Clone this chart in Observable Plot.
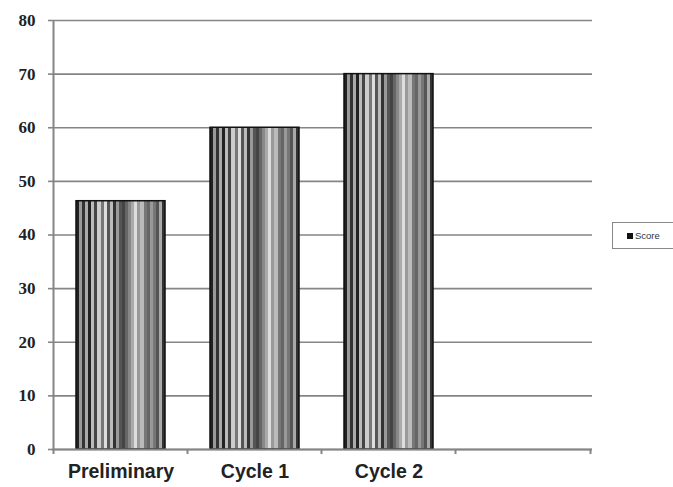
<!DOCTYPE html>
<html>
<head>
<meta charset="utf-8">
<script src="https://cdn.jsdelivr.net/npm/d3@7"></script>
<script src="https://cdn.jsdelivr.net/npm/@observablehq/plot@0.6"></script>
<style>
  body { margin: 0; background: #fff; }
  #wrap { position: relative; width: 673px; height: 487px; }
  #legend { position: absolute; left: 612px; top: 222px; width: 70px; height: 27px;
    border: 1.5px solid #888; box-sizing: border-box; background: #fff;
    font: 9.5px "Liberation Sans", Arial, sans-serif; color: #333; }
  #legend .sw { position: absolute; left: 14px; top: 10px; width: 6px; height: 6px; background: #111; }
  #legend .lb { position: absolute; left: 22px; top: 6.5px; }
</style>
</head>
<body>
<div id="wrap"></div>
<script>
const categories = ["Preliminary", "Cycle 1", "Cycle 2"];
const scores = [46.3, 60, 70];
const seriesName = "Score";
const yTicks = [0, 10, 20, 30, 40, 50, 60, 70, 80];
const xDomain = [...categories, " "];

const data = categories.map((c, i) => ({category: c, score: scores[i]}));

const W = 673, H = 487, mL = 52, mR = 81, mT = 20, mB = 38;
const step = (W - mL - mR) / xDomain.length;
const gray = "#858585";

// vertical stripe fill (style only)
const stripeGrays = ["#222","#999","#333","#aaa","#222","#bbb","#444","#ccc","#777","#ddd","#555","#bbb",
  "#333","#999","#555","#444","#666","#888","#aaa","#ddd","#999","#bbb","#777","#666","#999","#777","#555","#aaa","#333"];
function defs() {
  const ns = "http://www.w3.org/2000/svg";
  const d = document.createElementNS(ns, "defs");
  const g = document.createElementNS(ns, "linearGradient");
  g.setAttribute("id", "stripes");
  g.setAttribute("x1", "0"); g.setAttribute("x2", "1");
  g.setAttribute("y1", "0"); g.setAttribute("y2", "0");
  const n = stripeGrays.length;
  stripeGrays.forEach((c, i) => {
    for (const o of [i / n, (i + 1) / n]) {
      const s = document.createElementNS(ns, "stop");
      s.setAttribute("offset", o);
      s.setAttribute("stop-color", c);
      g.appendChild(s);
    }
  });
  d.appendChild(g);
  return d;
}

const chart = Plot.plot({
  width: W, height: H,
  marginLeft: mL, marginRight: mR, marginTop: mT, marginBottom: mB,
  x: {domain: xDomain, paddingInner: 0.333, paddingOuter: 0.1667, axis: null, label: null},
  y: {domain: [0, 80], axis: null, label: null},
  marks: [
    defs,
    Plot.gridY(yTicks, {stroke: gray, strokeOpacity: 1, strokeWidth: 1.6}),
    Plot.axisY(yTicks, {tickSize: 4, tickPadding: 13, stroke: gray, strokeWidth: 1.6, label: null,
      fontSize: 17, fontWeight: "bold", fontFamily: "Liberation Serif, Times New Roman, serif", fill: "#222"}),
    Plot.ruleX([xDomain[0]], {dx: -step / 2, stroke: gray, strokeWidth: 2}),
    Plot.barY(data, {x: "category", y: "score", fill: "url(#stripes)", stroke: "#111", strokeWidth: 1.5}),
    Plot.ruleY([0], {stroke: gray, strokeWidth: 2}),
    Plot.axisX(xDomain, {tickSize: 5, dx: -step / 2, stroke: gray, strokeWidth: 2, tickFormat: () => "", label: null}),
    Plot.axisX([xDomain[xDomain.length - 1]], {tickSize: 5, dx: step / 2, stroke: gray, strokeWidth: 2, tickFormat: () => "", label: null}),
    Plot.axisX(xDomain, {tickSize: 0, tickPadding: 15, fontSize: 19.5, fontWeight: "bold", label: null,
      fontFamily: "Liberation Sans, Arial, sans-serif", fill: "#222"})
  ]
});
const wrap = document.getElementById("wrap");
wrap.appendChild(chart);
const lg = document.createElement("div");
lg.id = "legend";
lg.innerHTML = `<span class="sw"></span><span class="lb">${seriesName}</span>`;
wrap.appendChild(lg);
</script>
</body>
</html>
